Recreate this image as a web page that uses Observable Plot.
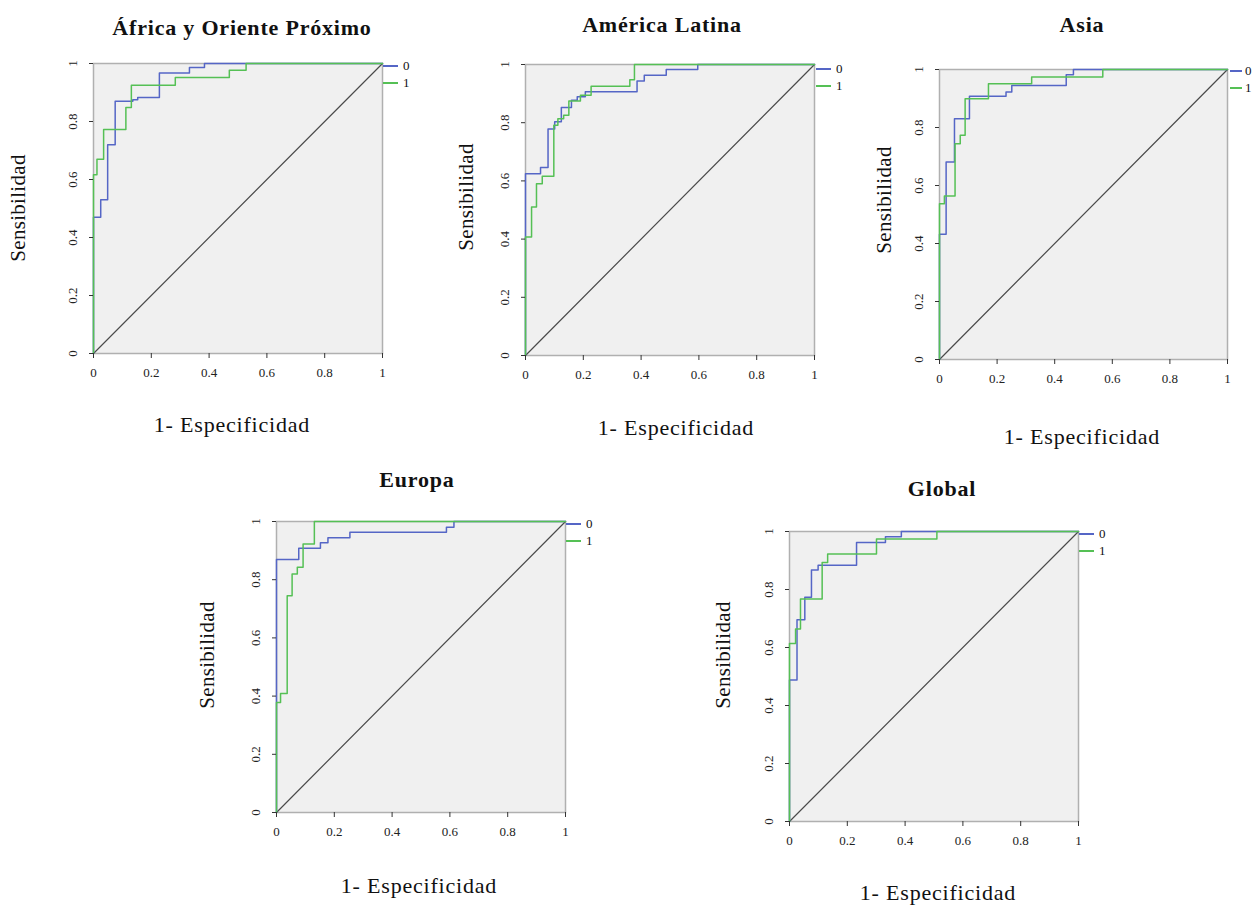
<!DOCTYPE html>
<html><head><meta charset="utf-8">
<script src="https://cdn.jsdelivr.net/npm/d3@7"></script>
<script src="https://cdn.jsdelivr.net/npm/@observablehq/plot@0.6"></script>
<style>
body{margin:0;background:#fff;width:1252px;height:905px;position:relative;overflow:hidden;font-family:"Liberation Serif","Times New Roman",serif;color:#111;}
.abs{position:absolute;white-space:nowrap;}
.title{font-weight:bold;font-size:22px;letter-spacing:0.8px;transform:translate(-50%,-50%);}
.xlab{font-size:22px;letter-spacing:0.8px;transform:translate(-50%,-50%);}
.ylab{font-size:21px;letter-spacing:0.3px;transform:translate(-50%,-50%) rotate(-90deg);}
.leg{font-size:13px;line-height:17px;}
.leg .row{display:flex;align-items:center;height:17px;}
.leg .sw{display:inline-block;width:15px;height:2px;margin-right:5px;}
.leg.tight .sw{width:12px;margin-right:3px;}
</style>
</head><body>
<div id="root"></div>
<script>
// ---- data ----
const panelTitles = ["África y Oriente Próximo", "América Latina", "Asia", "Europa", "Global"];
const series = ["0", "1"];
const xLabel = "1- Especificidad";
const yLabel = "Sensibilidad";
const ticks = [0, 0.2, 0.4, 0.6, 0.8, 1];
const tickLabels = ["0", "0.2", "0.4", "0.6", "0.8", "1"];
const diagonal = [[0, 0], [1, 1]];

const africa0 = [[0,0],[0,0.47],[0.025,0.53],[0.049,0.72],[0.075,0.87],[0.136,0.875],[0.153,0.883],[0.228,0.967],[0.332,0.986],[0.384,1],[1,1]];
const africa1 = [[0,0],[0,0.616],[0.012,0.67],[0.035,0.772],[0.112,0.848],[0.131,0.925],[0.283,0.952],[0.47,0.977],[0.528,1],[1,1]];
const latam0 = [[0,0],[0,0.625],[0.052,0.646],[0.078,0.778],[0.101,0.803],[0.124,0.852],[0.159,0.877],[0.179,0.889],[0.207,0.906],[0.386,0.943],[0.411,0.963],[0.487,0.983],[0.596,1],[1,1]];
const latam1 = [[0,0],[0,0.407],[0.021,0.51],[0.038,0.59],[0.058,0.616],[0.098,0.791],[0.112,0.814],[0.132,0.826],[0.15,0.875],[0.19,0.894],[0.227,0.925],[0.361,0.948],[0.377,1],[1,1]];
const asia0 = [[0,0],[0,0.432],[0.023,0.681],[0.052,0.83],[0.104,0.908],[0.231,0.922],[0.251,0.945],[0.44,0.982],[0.465,1],[1,1]];
const asia1 = [[0,0],[0,0.537],[0.017,0.564],[0.054,0.744],[0.072,0.773],[0.089,0.899],[0.17,0.951],[0.32,0.974],[0.567,1],[1,1]];
const europa0 = [[0,0],[0,0.869],[0.077,0.908],[0.152,0.927],[0.178,0.944],[0.254,0.963],[0.588,0.98],[0.614,1],[1,1]];
const europa1 = [[0,0],[0,0.378],[0.014,0.409],[0.037,0.745],[0.054,0.82],[0.072,0.843],[0.092,0.923],[0.131,1],[1,1]];
const global0 = [[0,0],[0,0.488],[0.026,0.696],[0.053,0.773],[0.076,0.867],[0.099,0.884],[0.232,0.962],[0.332,0.982],[0.387,1],[1,1]];
const global1 = [[0,0],[0,0.614],[0.021,0.664],[0.038,0.767],[0.113,0.893],[0.132,0.922],[0.301,0.974],[0.51,1],[1,1]];

const panelSeries = [[africa0, africa1], [latam0, latam1], [asia0, asia1], [europa0, europa1], [global0, global1]];

// ---- layout / style ----
const colors = ["#5566c6", "#55c055"];
const layout = [
  {left: 93,  top: 63,  w: 289, h: 290, title: [242, 28],  ylab: [18, 208],  xlab: [232, 425],  leg: [383, 57]},
  {left: 525, top: 64,  w: 289, h: 291, title: [662, 25],  ylab: [466, 197], xlab: [676, 428],  leg: [816, 60]},
  {left: 939, top: 69,  w: 288, h: 290, title: [1082, 25], ylab: [884, 200], xlab: [1082, 437], leg: [1230, 62], tight: true},
  {left: 276, top: 521, w: 289, h: 291, title: [417, 480], ylab: [207, 655], xlab: [419, 886],  leg: [566, 515]},
  {left: 789, top: 531, w: 289, h: 290, title: [942, 489], ylab: [723, 655], xlab: [938, 893],  leg: [1079, 525]}
];
const ML = 40, MR = 4, MT = 6, MB = 32;
const root = document.getElementById("root");
const fmt = d => tickLabels[ticks.indexOf(d)];

function addText(cls, txt, x, y) {
  const el = document.createElement("div");
  el.className = "abs " + cls;
  el.textContent = txt;
  el.style.left = x + "px";
  el.style.top = y + "px";
  root.appendChild(el);
}

panelTitles.forEach((t, p) => {
  const L = layout[p];
  const rows = [];
  panelSeries[p].forEach((arr, k) => arr.forEach(([x, y]) => rows.push({x, y, s: series[k]})));
  const chart = Plot.plot({
    width: L.w + ML + MR, height: L.h + MT + MB,
    marginLeft: ML, marginRight: MR, marginTop: MT, marginBottom: MB,
    x: {domain: [0, 1]}, y: {domain: [0, 1]},
    color: {domain: series, range: colors},
    style: {fontFamily: "'Liberation Serif', serif", fontSize: "13px", background: "transparent", color: "#222", overflow: "visible"},
    marks: [
      Plot.frame({fill: "#f0f0f0", stroke: "#b0b0b0", strokeWidth: 1.5}),
      Plot.line(diagonal, {x: d => d[0], y: d => d[1], stroke: "#4a4a4a", strokeWidth: 1.2}),
      Plot.line(rows, {x: "x", y: "y", z: "s", stroke: "s", curve: "step-after", strokeWidth: 1.5}),
      Plot.axisX({ticks, tickFormat: fmt, tickSize: 5, tickPadding: 9, label: null, stroke: "#333"}),
      Plot.axisY({ticks, tickFormat: fmt, tickSize: 4, tickPadding: 17, tickRotate: -90, textAnchor: "middle", lineAnchor: "middle", label: null, stroke: "#333"})
    ]
  });
  chart.style.position = "absolute";
  chart.style.left = (L.left - ML) + "px";
  chart.style.top = (L.top - MT) + "px";
  root.appendChild(chart);

  addText("title", t, L.title[0], L.title[1]);
  addText("xlab", xLabel, L.xlab[0], L.xlab[1]);
  addText("ylab", yLabel, L.ylab[0], L.ylab[1]);

  const leg = document.createElement("div");
  leg.className = "abs leg" + (L.tight ? " tight" : "");
  leg.style.left = L.leg[0] + "px";
  leg.style.top = L.leg[1] + "px";
  series.forEach((s, k) => {
    const r = document.createElement("div");
    r.className = "row";
    const sw = document.createElement("span");
    sw.className = "sw";
    sw.style.background = colors[k];
    r.appendChild(sw);
    r.appendChild(document.createTextNode(s));
    leg.appendChild(r);
  });
  root.appendChild(leg);
});
</script>
</body></html>
